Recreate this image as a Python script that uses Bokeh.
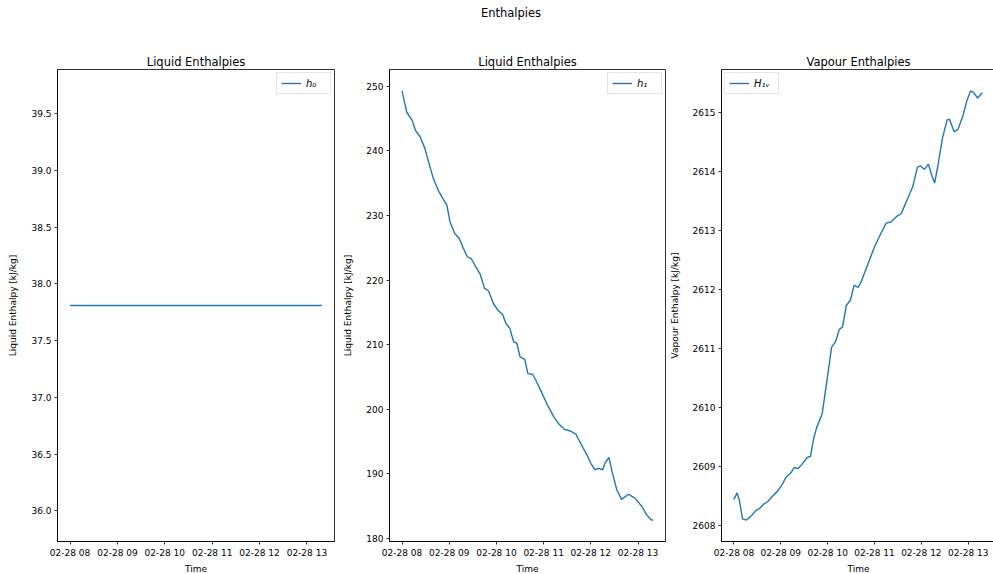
from datetime import datetime, timedelta

from bokeh.plotting import figure
from bokeh.layouts import row, column
from bokeh.models import (Div, Range1d, SingleIntervalTicker, DatetimeTickFormatter,
                          NumeralTickFormatter)
from bokeh.embed import file_html
from bokeh.resources import INLINE

# ---------------- data ----------------
start_time = datetime(2023, 2, 28, 8, 0)

h0_minutes = [0, 319]
h0_values = [37.81, 37.81]

h1_minutes = [0, 6, 13, 17, 23, 29, 36, 40, 46, 52, 57, 61, 67, 73, 78, 83, 88, 94, 99, 105,
              110, 116, 122, 128, 132, 137, 142, 146, 150, 156, 160, 166, 170, 177, 185,
              193, 200, 206, 214, 221, 227, 235, 240, 245, 250, 255, 258, 263, 267, 273,
              279, 288, 296, 305, 311, 317, 319]
h1_values = [249.3, 246.0, 244.7, 243.2, 242.2, 240.4, 237.3, 235.7, 233.9, 232.6,
             231.6, 229.0, 227.2, 226.4, 224.9, 223.6, 223.3, 222.0, 221.0, 218.7,
             218.3, 216.4, 215.3, 214.6, 213.3, 212.5, 210.4, 210.2, 208.1, 207.7,
             205.5, 205.4, 204.5, 202.7, 200.6, 198.8, 197.6, 196.9, 196.6, 196.1,
             194.7, 192.9, 191.6, 190.6, 190.8, 190.6, 191.6, 192.5, 190.3, 187.5,
             186.0, 186.8, 186.2, 184.9, 183.6, 182.8, 182.8]

h1v_minutes = [0, 4, 7, 11, 16, 22, 28, 33, 39, 43, 49, 56, 62, 67, 73, 77, 82, 88, 94, 98,
               102, 106, 113, 117, 121, 125, 130, 135, 139, 144, 149, 154, 159, 163, 172,
               180, 189, 195, 201, 208, 214, 220, 229, 235, 239, 244, 249, 253, 257, 261,
               267, 273, 276, 282, 287, 293, 298, 303, 307, 312, 318]
h1v_values = [2608.45, 2608.56, 2608.43, 2608.12, 2608.10, 2608.17, 2608.26, 2608.30, 2608.38, 2608.41,
              2608.50, 2608.59, 2608.71, 2608.83, 2608.90, 2608.99, 2608.97, 2609.06, 2609.16, 2609.18,
              2609.48, 2609.67, 2609.90, 2610.27, 2610.64, 2611.03, 2611.12, 2611.33, 2611.37, 2611.74,
              2611.82, 2612.08, 2612.04, 2612.14, 2612.45, 2612.73, 2612.98, 2613.13, 2613.15, 2613.24,
              2613.29, 2613.47, 2613.75, 2614.08, 2614.10, 2614.04, 2614.13, 2613.95, 2613.81, 2614.09,
              2614.57, 2614.88, 2614.89, 2614.68, 2614.72, 2614.94, 2615.19, 2615.37, 2615.34, 2615.25,
              2615.34]

suptitle = "Enthalpies"
titles = ["Liquid Enthalpies", "Liquid Enthalpies", "Vapour Enthalpies"]
ylabels = ["Liquid Enthalpy [kJ/kg]", "Liquid Enthalpy [kJ/kg]", "Vapour Enthalpy [kJ/kg]"]
legend_labels = ["h\u2080", "h\u2081", "H\u2081\u1d65"]
xlabel = "Time"

# ---------------- styling ----------------
FONT = "DejaVu Sans"
LINE_COLOR = "#1f77b4"


def to_times(minutes):
    return [start_time + timedelta(minutes=m) for m in minutes]


def padded(lo, hi, frac=0.05):
    span = hi - lo
    return lo - span * frac, hi + span * frac


all_minutes = h0_minutes + h1_minutes + h1v_minutes
x_lo, x_hi = padded(min(all_minutes), max(all_minutes))


def y_range_for(values):
    lo, hi = min(values), max(values)
    if hi - lo < 1e-9:
        lo, hi = lo - 0.05 * abs(lo), hi + 0.05 * abs(hi)
    a, b = padded(lo, hi)
    return Range1d(a, b)


def make_fig(minutes, values, title, ylabel, legend_label, ytick, yfmt,
             left_border, frame_w, right_border, legend_loc):
    p = figure(x_axis_type="datetime", output_backend="svg", toolbar_location=None,
               frame_width=frame_w, frame_height=472,
               min_border_left=left_border, min_border_right=right_border,
               min_border_top=39, min_border_bottom=33,
               x_range=Range1d(start_time + timedelta(minutes=x_lo),
                               start_time + timedelta(minutes=x_hi)),
               y_range=y_range_for(values))
    p.line(to_times(minutes), values, line_color=LINE_COLOR, line_width=1.4,
           legend_label=legend_label)

    p.title.text = title
    p.title.text_font = FONT
    p.title.text_font_size = "11.5px"
    p.title.text_font_style = "normal"
    p.title.text_color = "black"
    p.title.align = "center"
    p.title.standoff = 2

    p.xgrid.visible = False
    p.ygrid.visible = False
    p.outline_line_color = "black"
    p.outline_line_width = 0.8
    p.outline_line_alpha = 1.0

    p.xaxis.ticker = SingleIntervalTicker(interval=3600000, num_minor_ticks=0)
    fmt = "%m-%d %H"
    p.xaxis.formatter = DatetimeTickFormatter(
        microseconds=fmt, milliseconds=fmt, seconds=fmt, minsec=fmt, minutes=fmt,
        hourmin=fmt, hours=fmt, days=fmt, months=fmt, years=fmt)
    p.yaxis.ticker = SingleIntervalTicker(interval=ytick, num_minor_ticks=0)
    p.yaxis.formatter = NumeralTickFormatter(format=yfmt)

    for ax in (p.xaxis[0], p.yaxis[0]):
        ax.axis_line_color = "black"
        ax.axis_line_width = 0.8
        ax.major_tick_line_color = "black"
        ax.major_tick_line_width = 0.8
        ax.major_tick_out = 3
        ax.major_tick_in = 0
        ax.minor_tick_line_color = None
        ax.major_label_text_font = FONT
        ax.major_label_text_font_size = "9px"
        ax.major_label_text_color = "black"
        ax.major_label_standoff = 3
        ax.axis_label_text_font = FONT
        ax.axis_label_text_font_size = "9px"
        ax.axis_label_text_font_style = "normal"
        ax.axis_label_text_color = "black"

    p.xaxis.axis_label = xlabel
    p.xaxis.axis_label_standoff = 3
    p.yaxis.axis_label = ylabel
    p.yaxis.axis_label_standoff = 10

    lg = p.legend[0]
    lg.location = legend_loc
    lg.margin = 3
    lg.padding = 4
    lg.spacing = 0
    lg.label_text_font = FONT
    lg.label_text_font_size = "10px"
    lg.label_text_font_style = "italic"
    lg.label_text_color = "black"
    lg.label_height = 12
    lg.glyph_height = 12
    lg.glyph_width = 20
    lg.label_standoff = 5
    lg.border_line_color = "#cccccc"
    lg.border_line_width = 0.8
    lg.background_fill_alpha = 0.8
    return p


p1 = make_fig(h0_minutes, h0_values, titles[0], ylabels[0], legend_labels[0], 0.5, "0.0",
              57, 277, 1, "top_right")
p2 = make_fig(h1_minutes, h1_values, titles[1], ylabels[1], legend_labels[1], 10, "0",
              54, 276, 1, "top_right")
p3 = make_fig(h1v_minutes, h1v_values, titles[2], ylabels[2], legend_labels[2], 1, "0",
              53, 274, 0, "top_left")

head = Div(text=('<div style="box-sizing:border-box;width:993px;padding-left:29px;'
                 'padding-top:5px;text-align:center;font-family:\'DejaVu Sans\';'
                 'font-size:11.5px;color:black;">' + suptitle + '</div>'),
           width=993, height=30, margin=0)

layout = column(head, row(p1, p2, p3, spacing=0), spacing=0)

open("out.html", "w").write(file_html(layout, INLINE, title="Enthalpies"))
